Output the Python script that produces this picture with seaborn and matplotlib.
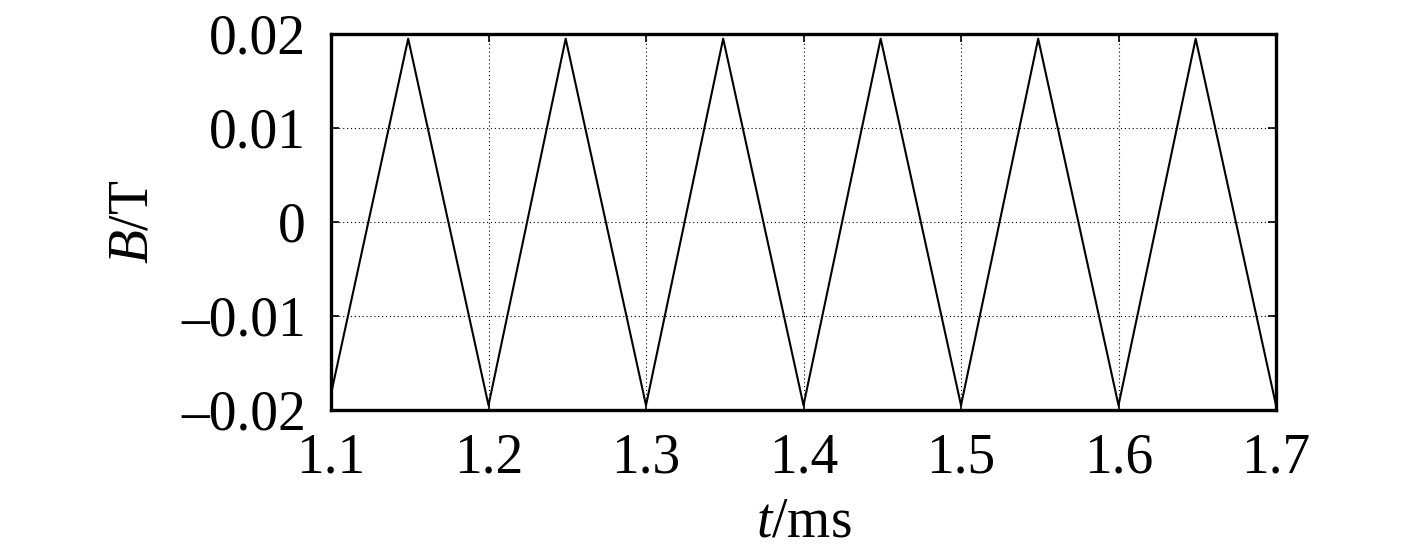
import matplotlib
import matplotlib.pyplot as plt
import pandas as pd
import seaborn as sns

matplotlib.use("Agg")

# triangle wave vertices
t_ms = [1.1, 1.149, 1.2, 1.249, 1.3, 1.349, 1.4, 1.449, 1.5, 1.549, 1.6, 1.649, 1.7]
b_tesla = [-0.0183, 0.0195, -0.0195, 0.0195, -0.0195, 0.0195, -0.0195,
           0.0195, -0.0195, 0.0195, -0.0195, 0.0195, -0.0195]
x_ticks = [1.1, 1.2, 1.3, 1.4, 1.5, 1.6, 1.7]
y_ticks = [-0.02, -0.01, 0, 0.01, 0.02]
y_tick_labels = ["\u20130.02", "\u20130.01", "0", "0.01", "0.02"]

sns.set_style("white")
plt.rcParams["font.family"] = ["Liberation Serif", "DejaVu Serif"]
plt.rcParams["mathtext.fontset"] = "custom"
plt.rcParams["mathtext.it"] = "Liberation Serif:italic"
plt.rcParams["mathtext.rm"] = "Liberation Serif"
plt.rcParams["text.color"] = "black"
plt.rcParams["axes.labelcolor"] = "black"
plt.rcParams["xtick.color"] = "black"
plt.rcParams["ytick.color"] = "black"

df = pd.DataFrame({"t": t_ms, "B": b_tesla})

fig = plt.figure(figsize=(14.17, 5.6), dpi=100)
ax = fig.add_axes([0.2336, 0.2679, 0.6669, 0.6714])
sns.lineplot(data=df, x="t", y="B", sort=False, color="black", linewidth=1.5, ax=ax)

ax.set_xlim(1.1, 1.7)
ax.set_ylim(-0.02, 0.02)
ax.set_xticks(x_ticks)
ax.set_xticklabels([f"{v:.1f}" for v in x_ticks])
ax.set_yticks(y_ticks)
ax.set_yticklabels(y_tick_labels)
ax.grid(True, linestyle=(0, (1, 2.5)), color="black", linewidth=0.8)
ax.tick_params(direction="in", length=6, width=1.2, labelsize=40,
               top=True, right=True, bottom=True, left=True)
ax.tick_params(axis="x", pad=16)
ax.tick_params(axis="y", pad=18)
for s in ax.spines.values():
    s.set_visible(True)
    s.set_linewidth(2.4)
    s.set_color("black")

ax.set_xlabel("$t$/ms", fontsize=40, va="center")
ax.xaxis.set_label_coords(0.5, -0.298)
ax.set_ylabel("$B$/T", fontsize=40, va="center")
ax.yaxis.set_label_coords(-0.2095, 0.5)

fig.savefig("out.png", dpi=100)
